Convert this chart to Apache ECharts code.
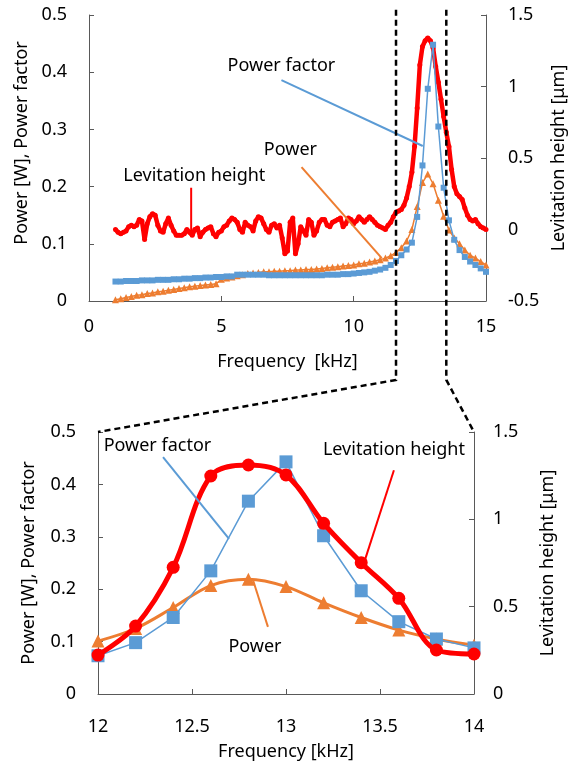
<!DOCTYPE html>
<html><head><meta charset="utf-8">
<script src="https://cdn.jsdelivr.net/npm/echarts@6/dist/echarts.min.js"></script>
<style>html,body{margin:0;padding:0;background:#fff}#c{width:568px;height:769px}</style>
</head><body><div id="c"></div>
<script>
// ---------- DATA ----------
// Top panel: levitation height sampled every 0.1 kHz
const freqLev = [1.0,1.1,1.2,1.3,1.4,1.5,1.6,1.7,1.8,1.9,2.0,2.1,2.2,2.3,2.4,2.5,2.6,2.7,2.8,2.9,
3.0,3.1,3.2,3.3,3.4,3.5,3.6,3.7,3.8,3.9,4.0,4.1,4.2,4.3,4.4,4.5,4.6,4.7,4.8,4.9,
5.0,5.1,5.2,5.3,5.4,5.5,5.6,5.7,5.8,5.9,6.0,6.1,6.2,6.3,6.4,6.5,6.6,6.7,6.8,6.9,
7.0,7.1,7.2,7.3,7.4,7.5,7.6,7.7,7.8,7.9,8.0,8.1,8.2,8.3,8.4,8.5,8.6,8.7,8.8,8.9,
9.0,9.1,9.2,9.3,9.4,9.5,9.6,9.7,9.8,9.9,10.0,10.1,10.2,10.3,10.4,10.5,10.6,10.7,10.8,10.9,
11.0,11.1,11.2,11.3,11.4,11.5,11.6,11.7,11.8,11.9,12.0,12.1,12.2,12.3,12.4,12.5,12.6,12.7,12.8,12.9,
13.0,13.1,13.2,13.3,13.4,13.5,13.6,13.7,13.8,13.9,14.0,14.1,14.2,14.3,14.4,14.5,14.6,14.7,14.8,14.9,15.0];
const levTop = [0.00,-0.02,-0.03,-0.02,-0.01,0.02,0.03,0.02,0.03,0.07,0.06,-0.07,0.04,0.09,0.11,0.10,0.03,-0.01,-0.02,0.04,
0.08,0.03,-0.01,-0.04,-0.04,-0.04,-0.03,0.00,-0.02,-0.04,0.00,0.01,-0.05,-0.02,0.00,0.01,0.02,-0.03,-0.05,-0.02,
-0.01,0.02,0.03,0.06,0.08,0.07,0.05,0.00,-0.02,0.05,0.03,0.02,-0.01,0.06,0.09,0.08,0.04,0.00,-0.02,0.03,
0.04,0.01,0.03,-0.06,-0.17,-0.15,0.05,0.08,-0.17,-0.10,0.02,-0.01,-0.04,0.07,0.05,-0.04,-0.01,0.05,0.07,0.07,
0.03,0.02,0.05,0.06,0.07,0.08,0.02,0.04,0.08,0.07,0.04,0.06,0.09,0.07,0.05,0.07,0.09,0.07,0.05,0.03,
0.02,0.01,0.00,0.03,0.05,0.09,0.12,0.13,0.14,0.17,0.22,0.30,0.40,0.58,0.85,1.15,1.28,1.32,1.34,1.32,
1.27,1.14,1.03,0.91,0.79,0.68,0.58,0.42,0.30,0.25,0.23,0.21,0.15,0.10,0.07,0.06,0.07,0.04,0.02,0.01,0.00];

// Top panel: power factor and power sampled every 0.2 kHz
const freqTop = [1.0,1.2,1.4,1.6,1.8,2.0,2.2,2.4,2.6,2.8,3.0,3.2,3.4,3.6,3.8,4.0,4.2,4.4,4.6,4.8,
5.0,5.2,5.4,5.6,5.8,6.0,6.2,6.4,6.6,6.8,7.0,7.2,7.4,7.6,7.8,8.0,8.2,8.4,8.6,8.8,
9.0,9.2,9.4,9.6,9.8,10.0,10.2,10.4,10.6,10.8,11.0,11.2,11.4,11.6,11.8,12.0,12.2,12.4,12.6,12.8,
13.0,13.2,13.4,13.6,13.8,14.0,14.2,14.4,14.6,14.8,15.0];
const pfTop = [0.034,0.034,0.035,0.035,0.035,0.036,0.036,0.036,0.037,0.037,
0.037,0.038,0.038,0.039,0.039,0.040,0.040,0.041,0.041,0.042,
0.042,0.043,0.043,0.046,0.046,0.046,0.046,0.046,0.046,0.045,
0.045,0.045,0.045,0.045,0.045,0.045,0.045,0.045,0.045,0.045,
0.046,0.046,0.046,0.047,0.047,0.048,0.049,0.050,0.051,0.053,
0.055,0.058,0.063,0.070,0.080,0.090,0.102,0.147,0.237,0.371,
0.448,0.305,0.198,0.141,0.107,0.089,0.077,0.069,0.063,0.057,0.051];
const powerTop = [0.002,0.004,0.006,0.008,0.010,0.011,0.013,0.014,0.016,0.017,
0.019,0.020,0.022,0.023,0.025,0.026,0.027,0.028,0.029,0.030,
0.038,0.040,0.042,0.044,0.046,0.048,0.049,0.050,0.051,0.051,
0.052,0.052,0.053,0.053,0.054,0.054,0.055,0.055,0.056,0.057,
0.058,0.059,0.060,0.061,0.062,0.063,0.065,0.066,0.068,0.070,
0.072,0.075,0.079,0.085,0.093,0.105,0.125,0.165,0.207,0.222,
0.205,0.176,0.148,0.124,0.110,0.100,0.089,0.080,0.075,0.069,0.063];

// Bottom (zoomed) panel
const freqZoom = [12.0,12.2,12.4,12.6,12.8,13.0,13.2,13.4,13.6,13.8,14.0];
const pfZoom = [0.073,0.098,0.146,0.235,0.368,0.443,0.302,0.197,0.138,0.105,0.088];
const powerZoom = [0.101,0.125,0.165,0.207,0.219,0.205,0.174,0.146,0.122,0.105,0.093];
const levZoom = [0.223,0.389,0.725,1.248,1.311,1.254,0.977,0.752,0.548,0.252,0.229];

// Axis ticks
const topXTicks = {min:0, max:15, interval:5};
const topLeftTicks = {min:0, max:0.5, interval:0.1};
const topRightTicks = {min:-0.5, max:1.5, interval:0.5};
const botXTicks = {min:12, max:14, interval:0.5};
const botLeftTicks = {min:0, max:0.5, interval:0.1};
const botRightTicks = {min:0, max:1.5, interval:0.5};

// ---------- STYLE / LAYOUT ----------
const FONT = '"Noto Sans", "Open Sans", sans-serif';
const BLUE = '#5B9BD5', ORANGE = '#ED7D31', RED = '#FF0000';
const AXC = '#595959';
const pair = (xs, ys) => xs.map((x, i) => [x, ys[i]]);

function yAx(grid, pos, t, name, gap, margin, shift) {
  return {
    type:'value', gridIndex:grid, position:pos, min:t.min, max:t.max, interval:t.interval,
    name:name, nameLocation:'middle', nameRotate:90, nameGap:gap,
    nameTextStyle:{fontFamily:FONT, fontSize:18, color:'#000', padding:[0,0,0,shift||0]},
    axisLine:{show:true, lineStyle:{color:AXC, width:1}},
    axisTick:{show:true, inside:true, length:5, lineStyle:{color:AXC}},
    axisLabel:{fontFamily:FONT, fontSize:18, color:'#000', margin:margin},
    splitLine:{show:false}
  };
}
function xAx(grid, t, name, gap, margin) {
  return {
    type:'value', gridIndex:grid, min:t.min, max:t.max, interval:t.interval,
    name:name, nameLocation:'middle', nameGap:gap,
    nameTextStyle:{fontFamily:FONT, fontSize:18, color:'#000'},
    axisLine:{show:true, onZero:false, lineStyle:{color:AXC, width:1}},
    axisTick:{show:true, inside:true, length:5, lineStyle:{color:AXC}},
    axisLabel:{fontFamily:FONT, fontSize:18, color:'#000', margin:margin},
    splitLine:{show:false}
  };
}

const chart = echarts.init(document.getElementById('c'), null, {renderer:'canvas'});
chart.setOption({
  animation:false,
  backgroundColor:'#fff',
  grid:[
    {left:89, right:82, top:15, bottom:468, outerBoundsMode:'none', containLabel:false},
    {left:98, right:94, top:432, bottom:75, outerBoundsMode:'none', containLabel:false}
  ],
  xAxis:[
    xAx(0, topXTicks, 'Frequency  [kHz]', 52, 17),
    xAx(1, botXTicks, 'Frequency [kHz]', 49, 24)
  ],
  yAxis:[
    yAx(0, 'left', topLeftTicks, 'Power [W], Power factor', 53, 22, 30),
    yAx(0, 'right', topRightTicks, 'Levitation height [\u03bcm]', 58, 22, 0),
    yAx(1, 'left', botLeftTicks, 'Power [W], Power factor', 60, 22, 0),
    yAx(1, 'right', botRightTicks, 'Levitation height [\u03bcm]', 65, 19, 0)
  ],
  series:[
    {type:'line', xAxisIndex:0, yAxisIndex:1, data:pair(freqLev, levTop),
     symbol:'circle', symbolSize:5, lineStyle:{color:RED, width:4.5}, itemStyle:{color:RED}, z:2},
    {type:'line', xAxisIndex:0, yAxisIndex:0, data:pair(freqTop, powerTop),
     symbol:'triangle', symbolSize:7, lineStyle:{color:ORANGE, width:1.5}, itemStyle:{color:ORANGE}, z:3},
    {type:'line', xAxisIndex:0, yAxisIndex:0, data:pair(freqTop, pfTop),
     symbol:'rect', symbolSize:6, lineStyle:{color:BLUE, width:1.5}, itemStyle:{color:BLUE}, z:4},

    {type:'line', xAxisIndex:1, yAxisIndex:2, data:pair(freqZoom, powerZoom), smooth:0.35,
     symbol:'triangle', symbolSize:13, lineStyle:{color:ORANGE, width:3}, itemStyle:{color:ORANGE}, z:2},
    {type:'line', xAxisIndex:1, yAxisIndex:2, data:pair(freqZoom, pfZoom),
     symbol:'rect', symbolSize:13, lineStyle:{color:BLUE, width:1.5}, itemStyle:{color:BLUE}, z:3},
    {type:'line', xAxisIndex:1, yAxisIndex:3, data:pair(freqZoom, levZoom), smooth:0.35,
     symbol:'circle', symbolSize:13, lineStyle:{color:RED, width:5}, itemStyle:{color:RED}, z:4}
  ]
});

// ---------- ANNOTATIONS (placed in data coordinates) ----------
const P = (xi, yi, pt) => chart.convertToPixel({xAxisIndex:xi, yAxisIndex:yi}, pt);
const annotations = [
  {ax:[0,0], text:'Power factor', at:[7.27,0.411], align:'center', line:[[7.27,0.386],[12.61,0.271]], color:BLUE},
  {ax:[0,0], text:'Power', at:[7.61,0.264], align:'center', line:[[8.03,0.234],[11.06,0.075]], color:ORANGE},
  {ax:[0,0], text:'Levitation height', at:[3.98,0.219], align:'center', line:[[3.86,0.198],[3.86,0.114]], color:RED},
  {ax:[1,2], text:'Power factor', at:[12.03,0.473], align:'left', line:[[12.346,0.452],[12.697,0.296]], color:BLUE},
  {ax:[1,2], text:'Power', at:[12.835,0.090], align:'center', line:[[12.904,0.128],[12.824,0.218]], color:ORANGE},
  {ax:[1,2], text:'Levitation height', at:[13.574,0.466], align:'center', line:[[13.574,0.427],[13.42,0.256]], color:RED}
];
const graphics = [];
annotations.forEach(a => {
  const p = P(a.ax[0], a.ax[1], a.at);
  graphics.push({type:'text', x:p[0], y:p[1], z:100,
    style:{text:a.text, fontFamily:FONT, fontSize:18, fill:'#000', align:a.align, verticalAlign:'middle'}});
  graphics.push({type:'polyline', z:99,
    shape:{points:a.line.map(q => P(a.ax[0], a.ax[1], q))},
    style:{stroke:a.color, lineWidth:2, fill:'none'}});
});
// dashed zoom indicators
const zoomLeft = 11.6, zoomRight = 13.5;
const dashTop = 0.509, dashBottom = -0.138;
const dashStyle = {stroke:'#000', lineWidth:2.5, lineDash:[6,4], fill:'none'};
const lt = P(0,0,[zoomLeft,dashTop]), lb = P(0,0,[zoomLeft,dashBottom]);
const rt = P(0,0,[zoomRight,dashTop]), rb = P(0,0,[zoomRight,dashBottom]);
const bl = P(1,2,[12,0.5]), br = P(1,2,[14,0.5]);
graphics.push({type:'polyline', z:101, shape:{points:[lt, lb, bl]}, style:dashStyle});
graphics.push({type:'polyline', z:101, shape:{points:[rt, rb, br]}, style:dashStyle});
chart.setOption({graphic:graphics});
</script>
</body></html>
